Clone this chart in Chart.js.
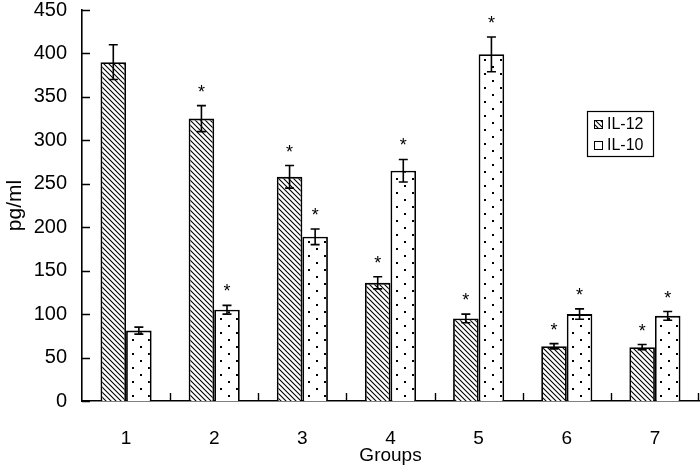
<!DOCTYPE html>
<html>
<head>
<meta charset="utf-8">
<script src="https://cdn.jsdelivr.net/npm/chart.js@4.4.1/dist/chart.umd.min.js"></script>
<style>
  html, body { margin: 0; padding: 0; background: #fff; }
  #wrap { width: 700px; height: 467px; }
</style>
</head>
<body>
<div id="wrap"><canvas id="chart" width="700" height="467"></canvas></div>
<script>
// Chart data
const groups = ['1', '2', '3', '4', '5', '6', '7'];
const il12 = [390, 325, 258, 136, 95, 63, 62];
const il12Err = [20, 15, 13, 7, 5, 3, 3];
const il10 = [81, 105, 189, 265, 399, 100, 98];
const il10Err = [4, 5, 9, 13, 20, 6, 5];
// significance marks (true = asterisk above the bar)
const il12Star = [false, true, true, true, true, true, true];
const il10Star = [false, true, true, true, true, true, true];
const yTicks = [0, 50, 100, 150, 200, 250, 300, 350, 400, 450];

const FONT = '"Liberation Sans", Arial, Helvetica, sans-serif';

// Build fill patterns for the bars
function hatchPattern() {
    const c = document.createElement('canvas');
    c.width = 5; c.height = 5;
    const g = c.getContext('2d');
    g.fillStyle = '#fff';
    g.fillRect(0, 0, 5, 5);
    g.strokeStyle = '#000';
    g.lineWidth = 1.1;
    g.beginPath();
    g.moveTo(-1, -1); g.lineTo(6, 6);
    g.moveTo(-1, 4); g.lineTo(1, 6);
    g.moveTo(4, -1); g.lineTo(6, 1);
    g.stroke();
    return g.createPattern(c, 'repeat');
}

function dotPattern() {
    const c = document.createElement('canvas');
    c.width = 16; c.height = 14;
    const g = c.getContext('2d');
    g.fillStyle = '#fff';
    g.fillRect(0, 0, 16, 14);
    g.fillStyle = '#000';
    g.fillRect(4, 3, 2, 2);
    g.fillRect(12, 10, 2, 2);
    return g.createPattern(c, 'repeat');
}

// Error bars, asterisks, inward ticks and legend box
const extrasPlugin = {
    id: 'extras',
    afterDatasetsDraw(chart) {
        const ctx = chart.ctx;
        const y = chart.scales.y;
        const x = chart.scales.x;
        const area = chart.chartArea;
        const errs = [il12Err, il10Err];
        const stars = [il12Star, il10Star];

        ctx.save();
        ctx.strokeStyle = '#000';
        ctx.lineWidth = 1.6;
        chart.data.datasets.forEach(function(ds, di) {
            const meta = chart.getDatasetMeta(di);
            meta.data.forEach(function(bar, i) {
                const v = ds.data[i];
                const top = y.getPixelForValue(v + errs[di][i]);
                const bot = y.getPixelForValue(v - errs[di][i]);
                ctx.beginPath();
                ctx.moveTo(bar.x, top); ctx.lineTo(bar.x, bot);
                ctx.moveTo(bar.x - 4.5, top); ctx.lineTo(bar.x + 4.5, top);
                ctx.moveTo(bar.x - 4.5, bot); ctx.lineTo(bar.x + 4.5, bot);
                ctx.stroke();
                if (stars[di][i]) {
                    ctx.fillStyle = '#000';
                    ctx.font = '18px ' + FONT;
                    ctx.textAlign = 'center';
                    ctx.textBaseline = 'alphabetic';
                    ctx.fillText('*', bar.x, top - 8);
                }
            });
        });

        // y ticks, pointing into the plot
        ctx.lineWidth = 1.4;
        ctx.beginPath();
        yTicks.forEach(function(t) {
            const py = Math.round(y.getPixelForValue(t)) + 0.5;
            ctx.moveTo(area.left, py);
            ctx.lineTo(area.left + 8, py);
        });
        // x ticks between the groups
        for (let i = 0; i < groups.length; i++) {
            let px;
            if (i < groups.length - 1) {
                px = (x.getPixelForValue(i) + x.getPixelForValue(i + 1)) / 2;
            } else {
                px = area.right - 1;
            }
            px = Math.round(px) + 0.5;
            ctx.moveTo(px, area.bottom);
            ctx.lineTo(px, area.bottom - 8);
        }
        ctx.stroke();

        // legend
        const lx = 587, ly = 111, lw = 66, lh = 45;
        ctx.lineWidth = 1.2;
        ctx.strokeRect(lx + 0.5, ly + 0.5, lw, lh);
        const fills = [chart.data.datasets[0].backgroundColor, '#fff'];
        const names = ['IL-12', 'IL-10'];
        ctx.font = '16px ' + FONT;
        ctx.textAlign = 'left';
        ctx.textBaseline = 'middle';
        for (let k = 0; k < 2; k++) {
            const cy = ly + 13 + k * 21;
            ctx.fillStyle = fills[k];
            ctx.fillRect(lx + 7, cy - 4, 8, 8);
            ctx.lineWidth = 1;
            ctx.strokeRect(lx + 7.5, cy - 3.5, 8, 8);
            ctx.fillStyle = '#000';
            ctx.fillText(names[k], lx + 20, cy + 1);
        }
        ctx.restore();
    }
};

const ctx = document.getElementById('chart').getContext('2d');
const chart = new Chart(ctx, {
    type: 'bar',
    data: {
        labels: groups,
        datasets: [
            {
                label: 'IL-12',
                data: il12,
                backgroundColor: hatchPattern(),
                borderColor: '#000',
                borderWidth: 1.8,
                borderSkipped: 'bottom'
            },
            {
                label: 'IL-10',
                data: il10,
                backgroundColor: dotPattern(),
                borderColor: '#000',
                borderWidth: 1.8,
                borderSkipped: 'bottom'
            }
        ]
    },
    options: {
        responsive: false,
        animation: false,
        devicePixelRatio: 1,
        categoryPercentage: 0.58,
        barPercentage: 1.0,
        layout: { padding: { top: 10, right: 1, left: 0, bottom: 0 } },
        plugins: {
            legend: { display: false },
            tooltip: { enabled: false }
        },
        scales: {
            x: {
                grid: { display: false, drawTicks: false },
                border: { display: true, color: '#000', width: 1.6 },
                ticks: {
                    color: '#000',
                    padding: 26,
                    font: { family: FONT, size: 19 }
                },
                title: {
                    display: true,
                    text: 'Groups',
                    color: '#000',
                    padding: { top: 0, bottom: 0 },
                    font: { family: FONT, size: 19 }
                },
                afterFit: function(scale) {
                    scale.height = 66;
                    scale.paddingLeft = 0;
                    scale.paddingRight = 0;
                }
            },
            y: {
                min: 0,
                max: 450,
                grid: { display: false, drawTicks: false },
                border: { display: true, color: '#000', width: 1.6 },
                ticks: {
                    stepSize: 50,
                    color: '#000',
                    padding: 15,
                    font: { family: FONT, size: 20 }
                },
                title: {
                    display: true,
                    text: 'pg/ml',
                    color: '#000',
                    padding: { top: 3, bottom: 0 },
                    font: { family: FONT, size: 21 }
                },
                afterFit: function(scale) {
                    scale.width = 82;
                    scale.paddingTop = 0;
                    scale.paddingBottom = 0;
                }
            }
        }
    },
    plugins: [extrasPlugin]
});
</script>
</body>
</html>
